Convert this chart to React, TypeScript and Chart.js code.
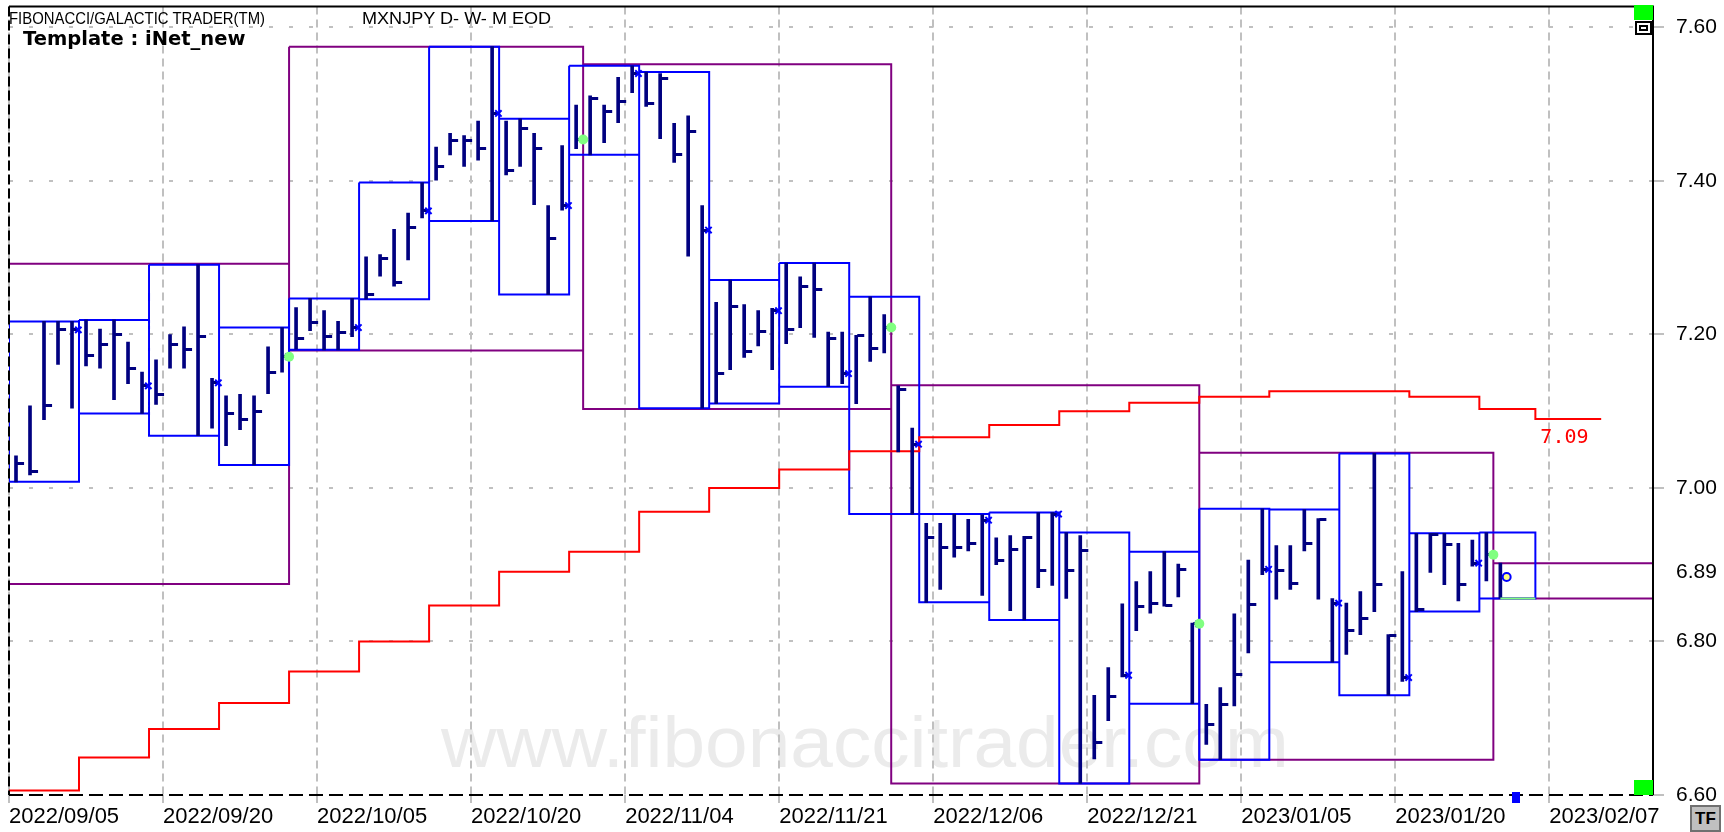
import React, { useEffect, useRef } from 'react';
import { Chart, registerables } from 'chart.js';
Chart.register(...registerables);

// ---- Daily bars (index 0 = 2022/09/05, one index per trading day) ----
const highs = [7.042,7.107,7.217,7.217,7.217, 7.219,7.207,7.219,7.190,7.151, 7.167,7.200,7.210,7.291,7.143, 7.120,7.122,7.120,7.184,7.209,
  7.235,7.247,7.231,7.217,7.247, 7.301,7.304,7.337,7.358,7.398, 7.444,7.462,7.459,7.478,7.575, 7.478,7.481,7.462,7.368,7.446,
  7.499,7.511,7.499,7.535,7.550, 7.542,7.540,7.475,7.485,7.368, 7.242,7.271,7.239,7.231,7.234, 7.293,7.275,7.293,7.203,7.203,
  7.199,7.249,7.226,7.133,7.078, 6.954,6.954,6.966,6.959,6.965, 6.935,6.938,6.937,6.968,6.968, 6.942,6.938,6.730,6.766,6.849,
  6.878,6.891,6.917,6.901,6.824, 6.718,6.740,6.836,6.906,6.973, 6.925,6.925,6.972,6.960,6.856, 6.850,6.865,7.045,6.809,6.891,
  6.941,6.941,6.941,6.928,6.932, 6.942,6.902];
const lows = [7.008,7.017,7.089,7.161,7.104, 7.159,7.156,7.115,7.136,7.097, 7.109,7.156,7.156,7.068,7.078, 7.055,7.076,7.030,7.123,7.151,
  7.181,7.205,7.180,7.180,7.197, 7.246,7.276,7.263,7.297,7.352, 7.401,7.434,7.419,7.427,7.348, 7.408,7.419,7.369,7.252,7.362,
  7.442,7.434,7.450,7.476,7.515, 7.497,7.455,7.424,7.302,7.104, 7.110,7.154,7.170,7.185,7.154, 7.188,7.209,7.196,7.132,7.136,
  7.110,7.165,7.176,7.047,6.966, 6.851,6.868,6.910,6.918,6.860, 6.900,6.840,6.828,6.870,6.873, 6.856,6.615,6.647,6.697,6.754,
  6.814,6.837,6.846,6.858,6.719, 6.666,6.646,6.716,6.785,6.887, 6.855,6.868,6.918,6.855,6.773, 6.783,6.809,6.839,6.730,6.748,
  6.839,6.890,6.874,6.853,6.898, 6.879,6.856];
const closes = [7.032,7.021,7.107,7.206,7.206, 7.172,7.187,7.200,7.156,7.133, 7.122,7.187,7.180,7.197,7.137, 7.097,7.089,7.099,7.151,7.171,
  7.195,7.216,7.197,7.203,7.209, 7.252,7.299,7.268,7.340,7.361, 7.419,7.453,7.453,7.442,7.488, 7.414,7.468,7.442,7.325,7.368,
  7.454,7.507,7.491,7.504,7.540, 7.501,7.533,7.434,7.465,7.336, 7.149,7.236,7.178,7.204,7.231, 7.206,7.263,7.258,7.195,7.149,
  7.199,7.182,7.209,7.128,7.057, 6.936,6.923,6.923,6.928,6.958, 6.905,6.920,6.936,6.893,6.966, 6.893,6.918,6.668,6.728,6.756,
  6.845,6.850,6.847,6.894,6.823, 6.692,6.718,6.757,6.848,6.894, 6.892,6.876,6.928,6.959,6.850, 6.814,6.830,6.874,6.808,6.753,
  6.842,6.939,6.927,6.874,6.902, 6.913,6.884];

// ---- Weeks (first / last bar index of each week) ----
const weekStarts = [0,5,10,15,20,25,30,35,40,45,50,55,60,65,70,75,80,85,90,95,100,105];
const weekEnds = [4,9,14,19,24,29,34,39,44,49,54,59,64,69,74,79,84,89,94,99,104,108];

// ---- Months ----
const monthStarts = [-2, 20, 41, 63, 85, 106];
const monthEnds = [19, 40, 62, 84, 105, 125];
const monthHighs = [7.292, 7.575, 7.552, 7.134, 7.046, 6.902];
const monthLows = [6.875, 7.179, 7.103, 6.615, 6.646, 6.856];

// ---- Red weekly stepped line ----
const redWeekly = [6.606,6.649,6.686,6.720,6.761,6.800,6.847,6.891,6.917,6.969,7.000,7.024,7.048,7.066,7.082,7.100,7.111,7.119,7.126,7.126,7.119,7.103];
const redProjection = 7.09;
const redProjectionEnd = 113.2;

// ---- Axes ----
const xMin = -0.5;
const xMax = 116.9;
const xTickIdx = [-0.5, 10.5, 21.5, 32.5, 43.5, 54.5, 65.5, 76.5, 87.5, 98.5, 109.5];
const xTickLabels = ['2022/09/05','2022/09/20','2022/10/05','2022/10/20','2022/11/04','2022/11/21','2022/12/06','2022/12/21','2023/01/05','2023/01/20','2023/02/07'];
const yMin = 6.6;
const yMax = 7.6273;
const yTickValues = [6.6, 6.8, 7.0, 7.2, 7.4, 7.6];
const lastPrice = 6.89;

const FONT = '"Liberation Sans", Arial, sans-serif';
const NAVY = '#000080';
const BLUE = '#0000ff';
const PURPLE = '#800080';
const GRID = '#c0c0c0';

function boxPath(starts: number[], ends: number[], hi: number[], lo: number[]) {
  const pts: any[] = [];
  starts.forEach((s, i) => {
    const a = s - 0.5, b = ends[i] + 0.5;
    pts.push({ x: a, y: hi[i] }, { x: b, y: hi[i] }, { x: b, y: lo[i] }, { x: a, y: lo[i] }, { x: a, y: hi[i] }, { x: a, y: null });
  });
  return pts;
}

export default function App() {
  const ref = useRef<HTMLCanvasElement>(null);
  useEffect(() => {
    document.body.style.margin = '0';
    document.body.style.overflow = 'hidden';
    const lastIdx = closes.length - 1;
    const weekHighs = weekStarts.map((s, i) => Math.max(...highs.slice(s, Math.min(weekEnds[i], lastIdx) + 1)));
    const weekLows = weekStarts.map((s, i) => Math.min(...lows.slice(s, Math.min(weekEnds[i], lastIdx) + 1)));

    const tick = document.createElement('canvas');
    tick.width = 18; tick.height = 3;
    const tctx = tick.getContext('2d')!;
    tctx.fillStyle = NAVY; tctx.fillRect(10, 0, 7, 3);

    const redPts = weekStarts.map((s, i) => ({ x: s - 0.5, y: redWeekly[i] }));
    redPts.push({ x: weekEnds[weekEnds.length - 1] + 0.5, y: redProjection });
    redPts.push({ x: redProjectionEnd, y: redProjection });

    const framePlugin = {
      id: 'frame',
      afterDatasetsDraw(chart: any) {
        const { ctx, chartArea: a, scales } = chart;
        ctx.save();
        ctx.lineWidth = 2;
        ctx.strokeStyle = '#000';
        ctx.beginPath(); ctx.moveTo(a.left, a.top); ctx.lineTo(a.right, a.top); ctx.lineTo(a.right, a.bottom); ctx.stroke();
        ctx.setLineDash([14, 6]);
        ctx.beginPath(); ctx.moveTo(a.left, a.bottom); ctx.lineTo(a.right, a.bottom); ctx.stroke();
        ctx.setLineDash([10, 4]);
        ctx.beginPath(); ctx.moveTo(a.left, a.top); ctx.lineTo(a.left, a.bottom); ctx.stroke();
        ctx.setLineDash([]);
        ctx.fillStyle = '#ff0000';
        ctx.font = '20px "DejaVu Sans Mono", monospace';
        ctx.textBaseline = 'middle';
        ctx.textAlign = 'left';
        const tx = scales.x.getPixelForValue(weekEnds[weekEnds.length - 1] + 0.5) + 5;
        const ty = scales.y.getPixelForValue(redProjection) + 19;
        ctx.fillText(redProjection.toFixed(2), tx, ty);
        ctx.restore();
      },
    };

    const chart = new Chart(ref.current!, {
      type: 'bar',
      data: {
        datasets: [
          {
            type: 'scatter', label: 'Month close', order: 0,
            data: monthEnds.slice(0, 5).map(e => ({ x: e + 0.5, y: closes[e] })),
            pointStyle: 'circle', pointRadius: 5, backgroundColor: '#80ff80', borderColor: '#80ff80', borderWidth: 0,
          } as any,
          {
            type: 'scatter', label: 'Week close', order: 0,
            data: weekEnds.slice(0, 21).map(e => ({ x: e + 0.45, y: closes[e] })),
            pointStyle: 'crossRot', pointRadius: 4.5, borderColor: BLUE, borderWidth: 2, backgroundColor: BLUE,
          } as any,
          {
            type: 'scatter', label: 'Last', order: 0,
            data: [{ x: lastIdx + 0.45, y: closes[lastIdx] }],
            pointStyle: 'circle', pointRadius: 4, borderColor: BLUE, borderWidth: 2, backgroundColor: '#ffff80',
          } as any,
          {
            type: 'line', label: 'Week low', order: 0,
            data: [{ x: lastIdx, y: weekLows[weekLows.length - 1] }, { x: weekEnds[weekEnds.length - 1] + 0.5, y: weekLows[weekLows.length - 1] }],
            borderColor: '#80ff80', borderWidth: 2, pointRadius: 0, fill: false,
          } as any,
          {
            type: 'scatter', label: 'Close', order: 1,
            data: closes.map((c, i) => ({ x: i, y: c })),
            pointStyle: tick, pointRadius: 3,
          } as any,
          {
            type: 'bar', label: 'High-Low', order: 2,
            data: highs.map((h, i) => ({ x: i, y: [lows[i], h] })),
            backgroundColor: NAVY, barThickness: 3, grouped: false, borderWidth: 0,
          } as any,
          {
            type: 'line', label: 'Weekly line', order: 3,
            data: redPts, stepped: true, borderColor: '#ff0000', borderWidth: 2, pointRadius: 0, fill: false,
          } as any,
          {
            type: 'line', label: 'Weekly boxes', order: 4,
            data: boxPath(weekStarts, weekEnds, weekHighs, weekLows),
            borderColor: BLUE, borderWidth: 2, pointRadius: 0, spanGaps: false, fill: false, tension: 0,
          } as any,
          {
            type: 'line', label: 'Monthly boxes', order: 5,
            data: boxPath(monthStarts, monthEnds, monthHighs, monthLows),
            borderColor: PURPLE, borderWidth: 2, pointRadius: 0, spanGaps: false, fill: false, tension: 0,
          } as any,
        ],
      },
      options: {
        responsive: false,
        maintainAspectRatio: false,
        animation: false,
        events: [],
        layout: { padding: { left: 9, top: 4, right: 0, bottom: 0 } },
        plugins: { legend: { display: false }, tooltip: { enabled: false } },
        scales: {
          x: {
            type: 'linear', position: 'bottom', min: xMin, max: xMax, offset: false,
            afterBuildTicks: (s: any) => { s.ticks = xTickIdx.map(v => ({ value: v })); },
            afterFit: (s: any) => { s.height = 37; s.paddingLeft = 0; s.paddingRight = 0; },
            ticks: {
              callback: (_v: any, i: number) => xTickLabels[i] ?? '',
              align: 'start', autoSkip: false, maxRotation: 0, minRotation: 0,
              font: { family: FONT, size: 22 }, color: '#000', padding: 1,
            },
            grid: { color: GRID, lineWidth: 2, tickLength: 8, tickColor: GRID, offset: false },
            border: { display: false, dash: [8, 5] },
          },
          y: {
            type: 'linear', position: 'right', min: yMin, max: yMax,
            afterBuildTicks: (s: any) => { s.ticks = [...yTickValues, lastPrice].sort((a, b) => a - b).map(v => ({ value: v })); },
            afterFit: (s: any) => { s.width = 71; s.paddingTop = 0; s.paddingBottom = 0; },
            ticks: {
              callback: (v: any) => Number(v).toFixed(2),
              font: { family: FONT, size: 21 }, color: '#000', padding: 12,
            },
            grid: {
              color: (c: any) => (c.tick && c.tick.value === lastPrice ? 'rgba(0,0,0,0)' : GRID),
              tickColor: (c: any) => (c.tick && c.tick.value === lastPrice ? 'rgba(0,0,0,0)' : GRID),
              lineWidth: 2, tickLength: 11,
            },
            border: { display: false, dash: [4, 16] },
          },
        },
      } as any,
      plugins: [framePlugin],
    });
    return () => chart.destroy();
  }, []);

  return (
    <div style={{ position: 'absolute', left: 0, top: 0, width: 1724, height: 832, background: '#fff', overflow: 'hidden' }}>
      <div style={{ position: 'absolute', left: 441, top: 705, font: `73px ${FONT}`, lineHeight: '73px', color: '#ebebeb', whiteSpace: 'nowrap', transform: 'scaleX(1.05)', transformOrigin: 'left top' }}>
        www.fibonaccitrader.com
      </div>
      <canvas ref={ref} width={1724} height={832} style={{ position: 'absolute', left: 0, top: 0 }} />
      <div style={{ position: 'absolute', left: 9, top: 11, font: `16px ${FONT}`, lineHeight: '16px', color: '#000', whiteSpace: 'nowrap', transform: 'scaleX(0.93)', transformOrigin: 'left top' }}>
        FIBONACCI/GALACTIC TRADER(TM)
      </div>
      <div style={{ position: 'absolute', left: 362, top: 11, font: `16px ${FONT}`, lineHeight: '16px', color: '#000', whiteSpace: 'nowrap', transform: 'scaleX(1.13)', transformOrigin: 'left top' }}>
        MXNJPY D- W- M EOD
      </div>
      <div style={{ position: 'absolute', left: 23, top: 29, font: 'bold 19.5px "DejaVu Sans", sans-serif', lineHeight: '19px', color: '#000', whiteSpace: 'nowrap' }}>
        Template : iNet_new
      </div>
      <div style={{ position: 'absolute', left: 1634, top: 5, width: 19, height: 15, background: '#00ff00' }} />
      <div style={{ position: 'absolute', left: 1635, top: 21, width: 13, height: 10, border: '2px solid #000', background: '#fff' }}>
        <div style={{ position: 'absolute', left: 2, top: 2, width: 5, height: 2, border: '2px solid #000' }} />
      </div>
      <div style={{ position: 'absolute', left: 1634, top: 780, width: 19, height: 15, background: '#00ff00' }} />
      <div style={{ position: 'absolute', left: 1512, top: 792, width: 8, height: 11, background: '#0000ff' }} />
      <div style={{ position: 'absolute', left: 1690, top: 805, width: 27, height: 23, background: '#c0c0c0', border: '2px solid #707070', font: `bold 17px ${FONT}`, lineHeight: '23px', textAlign: 'center', color: '#000' }}>
        TF
      </div>
    </div>
  );
}
